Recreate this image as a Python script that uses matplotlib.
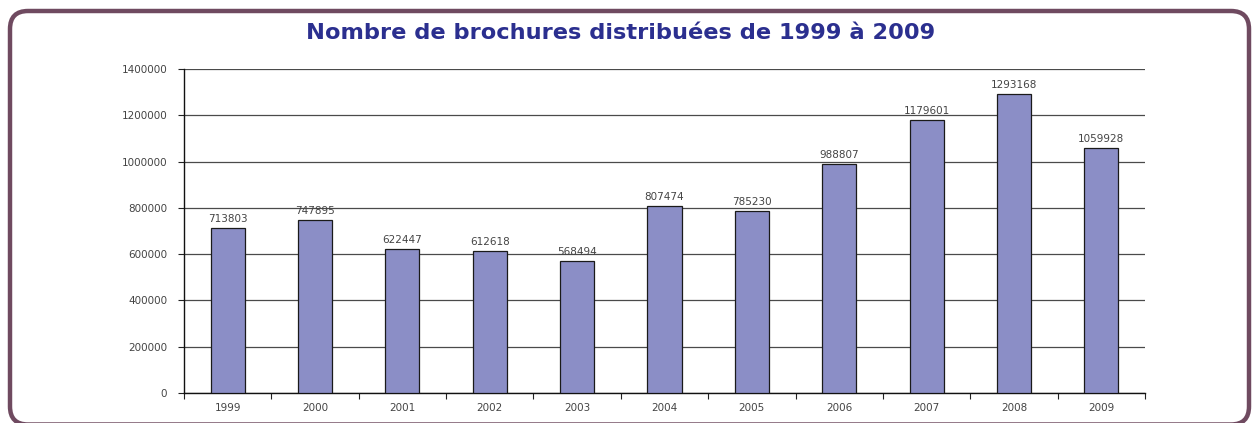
import matplotlib.pyplot as plt
from matplotlib.patches import FancyBboxPatch

annees = ["1999", "2000", "2001", "2002", "2003", "2004",
          "2005", "2006", "2007", "2008", "2009"]
brochures = [713803, 747895, 622447, 612618, 568494, 807474,
             785230, 988807, 1179601, 1293168, 1059928]
graduations = [0, 200000, 400000, 600000, 800000, 1000000, 1200000, 1400000]

W, H = 1253, 423
fig = plt.figure(figsize=(W / 100, H / 100), dpi=100)

# fond en pixels pour le cadre arrondi
fond = fig.add_axes([0, 0, 1, 1], zorder=-1)
fond.set_xlim(0, W)
fond.set_ylim(H, 0)
fond.axis("off")
fond.add_patch(FancyBboxPatch((10, 11), 1239, 413.5,
                              boxstyle="round,pad=0,rounding_size=18",
                              facecolor="white", edgecolor="#6f4a60",
                              linewidth=3.2))
fond.text(621, 33, "Nombre de brochures distribuées de 1999 à 2009",
          ha="center", va="center", fontsize=16.2, fontweight="bold",
          family="DejaVu Sans", color="#2b2f8f")

ax = fig.add_axes([184 / W, 1 - 393 / H, (1145 - 184) / W, (393 - 69) / H])
ax.set_facecolor("none")

x = range(len(annees))
ax.bar(x, brochures, width=0.39, color="#8b8ec6", edgecolor="#1a1a1a",
       linewidth=0.9, zorder=3)
for i, v in zip(x, brochures):
    ax.text(i, v + 18000, str(v), ha="center", va="bottom",
            fontsize=7.5, color="#444444", zorder=4)

ax.set_xlim(-0.5, len(annees) - 0.5)
ax.set_ylim(0, 1400000)
ax.set_yticks(graduations)
ax.set_yticklabels([str(g) for g in graduations], fontsize=7.5, color="#444444")
ax.grid(axis="y", color="#4a4a4a", linewidth=0.9, zorder=0)

# graduations de l'axe x entre les catégories
ax.set_xticks([i - 0.5 for i in range(len(annees) + 1)])
ax.set_xticklabels([])
ax.set_xticks(list(x), minor=True)
ax.set_xticklabels(annees, minor=True, fontsize=7.5, color="#444444")
ax.tick_params(axis="x", which="minor", length=0, pad=7)
ax.tick_params(axis="x", which="major", length=4, width=0.8, color="#222222")
ax.tick_params(axis="y", length=4, width=0.8, color="#222222", pad=8)

for side in ["top", "right"]:
    ax.spines[side].set_visible(False)
ax.spines["left"].set_color("#111111")
ax.spines["bottom"].set_color("#111111")
ax.spines["left"].set_linewidth(1.0)
ax.spines["bottom"].set_linewidth(1.0)

fig.savefig("out.png", dpi=100)
